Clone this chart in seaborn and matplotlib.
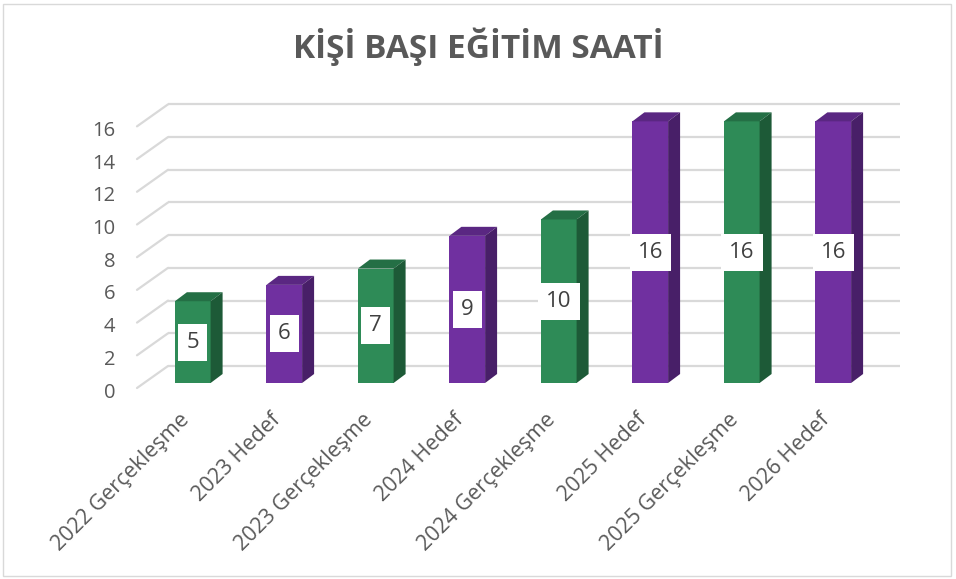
import matplotlib
matplotlib.use("Agg")
import matplotlib.pyplot as plt
import seaborn as sns
import pandas as pd
from matplotlib.patches import Polygon, Rectangle
from matplotlib.transforms import ScaledTranslation

# ---- data ----
categories = ["2022 Gerçekleşme", "2023 Hedef", "2023 Gerçekleşme", "2024 Hedef",
              "2024 Gerçekleşme", "2025 Hedef", "2025 Gerçekleşme", "2026 Hedef"]
values = [5, 6, 7, 9, 10, 16, 16, 16]
kinds = ["Gerçekleşme", "Hedef", "Gerçekleşme", "Hedef",
         "Gerçekleşme", "Hedef", "Gerçekleşme", "Hedef"]
yticks = [0, 2, 4, 6, 8, 10, 12, 14, 16]
title = "KİŞİ BAŞI EĞİTİM SAATİ"

# ---- style ----
front = {"Gerçekleşme": "#2E8B57", "Hedef": "#7030A0"}
side = {"Gerçekleşme": "#1D5A37", "Hedef": "#481F68"}
top = {"Gerçekleşme": "#246F45", "Hedef": "#5A2782"}
text_col = "#595959"
grid_col = "#D9D9D9"

sns.set_theme(style="white")
plt.rcParams['font.family'] = ['Open Sans', 'DejaVu Sans']

W, H = 956, 579
fig = plt.figure(figsize=(W / 100, H / 100), dpi=100)
ax_left, ax_right, ax_bottom, ax_top = 147, 879, 383, 105
ax = fig.add_axes([ax_left / W, (H - ax_bottom) / H,
                   (ax_right - ax_left) / W, (ax_bottom - ax_top) / H])

df = pd.DataFrame({"category": categories, "value": values, "kind": kinds})
bw = 0.39
sns.barplot(data=df, x="category", y="value", hue="kind", palette=front,
            width=bw, dodge=False, legend=False, saturation=1, linewidth=0,
            ax=ax, zorder=3)
ax.set_xlim(-0.5, 7.5)
ax.set_ylim(0, 17)

px_x = (ax_right - ax_left) / 8.0
px_y = (ax_bottom - ax_top) / 17.0

# 3D faces of bars
ddx, ddy = 12 / px_x, 9 / px_y
for i, (v, k) in enumerate(zip(values, kinds)):
    x0, x1 = i - bw / 2, i + bw / 2
    ax.add_patch(Polygon([(x0, v), (x1, v), (x1 + ddx, v + ddy), (x0 + ddx, v + ddy)],
                         closed=True, facecolor=top[k], edgecolor="none", zorder=3, clip_on=False))
    ax.add_patch(Polygon([(x1, 0), (x1, v), (x1 + ddx, v + ddy), (x1 + ddx, ddy)],
                         closed=True, facecolor=side[k], edgecolor="none", zorder=3, clip_on=False))
    ax.text(i, v / 2, str(v), ha="center", va="center", fontsize=16, color="#404040",
            zorder=5, bbox=dict(boxstyle="square,pad=0.36", facecolor="white", edgecolor="none"))

# back-wall gridlines with slanted side-wall segments
bx, by = 21 / px_x, 17 / px_y
fx, fy = -10 / px_x, -5 / px_y
for t in yticks:
    ax.plot([-0.5 + bx, 7.5 + bx], [t + by, t + by], color=grid_col, lw=1.6,
            zorder=1, clip_on=False, solid_capstyle="butt")
    ax.plot([-0.5 + fx, -0.5 + bx], [t + fy, t + by], color=grid_col, lw=1.6,
            zorder=1, clip_on=False)

for s in ax.spines.values():
    s.set_visible(False)
ax.set_xlabel("")
ax.set_ylabel("")
ax.set_yticks(yticks)
ax.set_yticklabels([str(t) for t in yticks])
ax.tick_params(axis="y", length=0, pad=23, labelsize=14.5, labelcolor=text_col)
ax.tick_params(axis="x", length=0, pad=19, labelsize=15.5, labelcolor=text_col)
ax.set_xticks(range(len(categories)))
ax.set_xticklabels(categories, rotation=45, ha="right", rotation_mode="anchor")
yoff = ScaledTranslation(0, -7 / 100, fig.dpi_scale_trans)
for lab in ax.get_yticklabels():
    lab.set_transform(lab.get_transform() + yoff)
xoff = ScaledTranslation(-14 / 100, 0, fig.dpi_scale_trans)
for lab in ax.get_xticklabels():
    lab.set_transform(lab.get_transform() + xoff)

fig.text(0.5, 1 - 47 / H, title, ha="center", va="center", fontsize=24,
         fontweight="bold", color=text_col)

fig.patches.append(Rectangle((3 / W, 3 / H), 1 - 8 / W, 1 - 7 / H, transform=fig.transFigure,
                             fill=False, edgecolor="#D9D9D9", lw=1))

fig.savefig("out.png", dpi=100)
